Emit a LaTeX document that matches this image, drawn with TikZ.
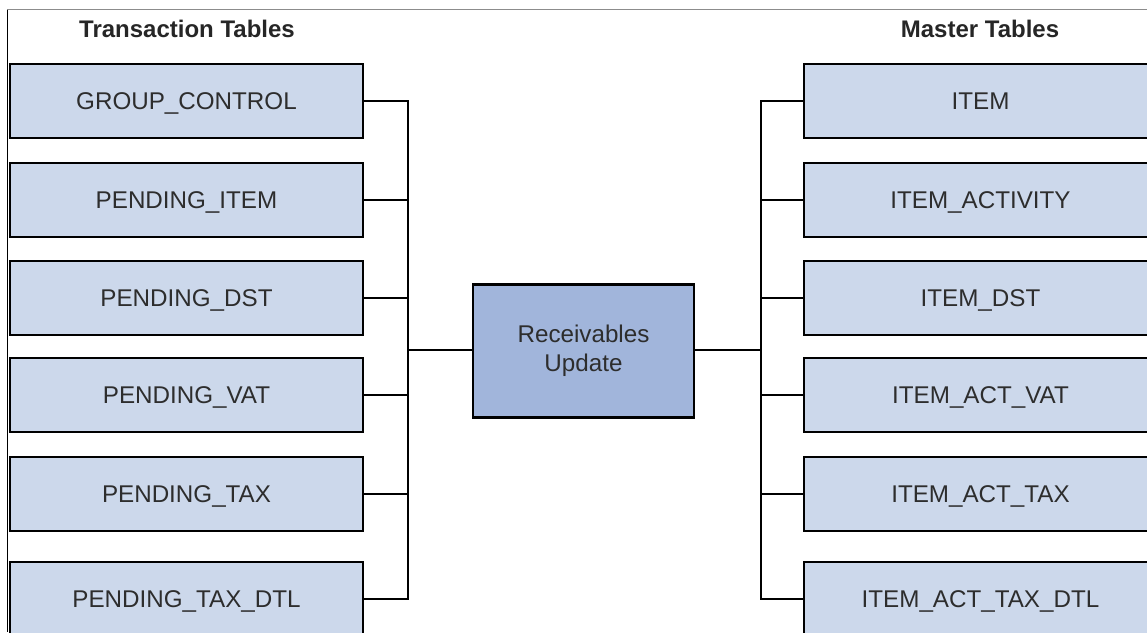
\documentclass[tikz,border=0pt]{standalone}
\usepackage{fontspec}
\setmainfont{Liberation Sans}

\definecolor{tablefill}{RGB}{204,216,235}
\definecolor{procfill}{RGB}{161,181,219}
\definecolor{labelgray}{RGB}{45,45,45}

\begin{document}
\begin{tikzpicture}[x=1pt,y=-1pt,
    tablebox/.style={draw=black, line width=2.6pt, fill=tablefill,
        minimum width=353pt, minimum height=74pt, inner sep=0pt,
        text=labelgray, font=\fontsize{24.2}{29}\selectfont,
        text height=17.4pt, text depth=0pt},
    procbox/.style={draw=black, line width=2.6pt, fill=procfill,
        minimum width=221pt, minimum height=133pt, inner sep=0pt,
        text=labelgray, align=center, font=\fontsize{24.2}{29}\selectfont},
    heading/.style={font=\fontsize{24}{29}\selectfont\bfseries, text=black!85},
    link/.style={draw=black, line width=2.2pt}]

    % --- Page frame ---
    \clip (0,0) rectangle (1147,632);
    \draw[black!45, line width=1pt] (1147,9.5) -- (7,9.5);
    \draw[black, line width=1pt] (7,9.5) -- (7,632);

    % --- Bus coordinates ---
    % Vertical collector lines on each side of the process
    \coordinate (lbus) at (408,350);
    \coordinate (rbus) at (761,350);

    % --- Headings ---
    \node[heading] (lhead) at (187,29) {Transaction Tables};
    \node[heading] (rhead) at (980,29) {Master Tables};

    % --- Transaction tables (left) ---
    \node[tablebox] (grp) at (186.5,101) {GROUP\_CONTROL};
    \node[tablebox] (pit) at (186.5,200) {PENDING\_ITEM};
    \node[tablebox] (pds) at (186.5,298) {PENDING\_DST};
    \node[tablebox] (pvt) at (186.5,395) {PENDING\_VAT};
    \node[tablebox] (ptx) at (186.5,494) {PENDING\_TAX};
    \node[tablebox] (ptd) at (186.5,599) {PENDING\_TAX\_DTL};

    % --- Master tables (right) ---
    \node[tablebox] (itm) at (980.5,101) {ITEM};
    \node[tablebox] (iac) at (980.5,200) {ITEM\_ACTIVITY};
    \node[tablebox] (ids) at (980.5,298) {ITEM\_DST};
    \node[tablebox] (ivt) at (980.5,395) {ITEM\_ACT\_VAT};
    \node[tablebox] (itx) at (980.5,494) {ITEM\_ACT\_TAX};
    \node[tablebox] (itd) at (980.5,599) {ITEM\_ACT\_TAX\_DTL};

    % --- Process ---
    \node[procbox, yshift=-1pt] (upd) at (583.5,350) {Receivables\\Update};

    % --- Connectors ---
    \foreach \t in {grp,pit,pds,pvt,ptx,ptd}
        \draw[link] (\t.east) -| (lbus);
    \foreach \t in {itm,iac,ids,ivt,itx,itd}
        \draw[link] (\t.west) -| (rbus);
    \draw[link] (upd.west |- lbus) -- (lbus);
    \draw[link] (upd.east |- rbus) -- (rbus);

\end{tikzpicture}
\end{document}
